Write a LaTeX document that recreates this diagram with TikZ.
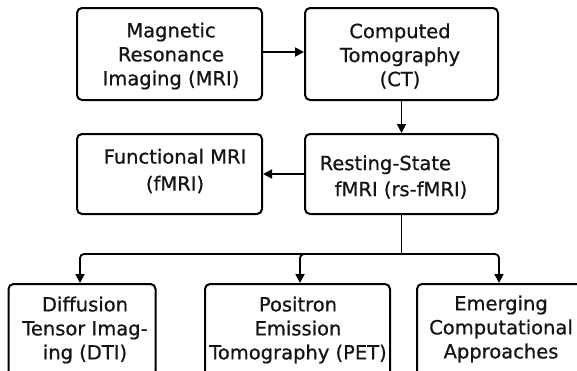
\documentclass[tikz,border=0pt]{standalone}
\usepackage{fontspec}
\setmainfont[FakeBold=0.7]{DejaVu Sans}
\usetikzlibrary{arrows.meta}
\begin{document}
\begin{tikzpicture}[x=1pt,y=-1pt,
  box/.style={draw=black, line width=2pt, rounded corners=5pt, inner sep=0pt},
  txt/.style={align=center, inner sep=0pt, text=black!92, font=\fontsize{19.5}{24}\selectfont},
  conn/.style={line width=1.8pt},
  arr/.style={conn, -{Triangle[length=9pt,width=9pt]}}]
\clip (0,0) rectangle (577,370);
\fill[white] (0,0) rectangle (577,370);
% boxes
\node[box, minimum width=185pt, minimum height=92pt] (mri) at (169.5,54) {};
\node[box, minimum width=193pt, minimum height=92pt] (ct) at (401.5,54) {};
\node[box, minimum width=185pt, minimum height=80pt] (fmri) at (169.5,174) {};
\node[box, minimum width=193pt, minimum height=80pt] (rs) at (401.5,174) {};
\node[box, minimum width=147pt, minimum height=92pt] (dti) at (82,330) {};
\node[box, minimum width=185pt, minimum height=92pt] (pet) at (297.5,330) {};
\node[box, minimum width=168pt, minimum height=92pt] (emg) at (501,330) {};
% texts
\node[txt] (mri-t) at (171,56) {Magnetic\\Resonance\\Imaging (MRI)};
\node[txt] (ct-t) at (400,56) {Computed\\Tomography\\(CT)};
\node[txt, font=\fontsize{19.5}{27}\selectfont] (fmri-t) at (175,171) {Functional MRI\\(fMRI)};
\node[txt, align=left, font=\fontsize{19.5}{26}\selectfont] (rs-t) at (393.5,177) {Resting-State\\\hspace*{15pt}fMRI (rs-fMRI)};
\node[txt] (dti-t) at (85,330) {Diffusion\\Tensor Imag-\\ing (DTI)};
\node[txt] (pet-t) at (298,330) {Positron\\Emission\\Tomography (PET)};
\node[txt] (emg-t) at (501,329) {Emerging\\Computational\\Approaches};
% connectors
\coordinate (j) at (401.5,254);
\draw[arr] ([yshift=2pt]mri.east) -- ([yshift=2pt]ct.west);
\draw[arr] (ct.south) -- (rs.north);
\draw[arr] (rs.west) -- (fmri.east);
\draw[conn] (rs.south) -- (j);
\draw[arr, rounded corners=4pt] (j) -| ([xshift=-2pt]dti.north);
\draw[arr, rounded corners=4pt] (j) -| ([xshift=2.5pt]pet.north);
\draw[arr, rounded corners=4pt] (j) -| ([xshift=-2pt]emg.north);
\end{tikzpicture}
\end{document}
